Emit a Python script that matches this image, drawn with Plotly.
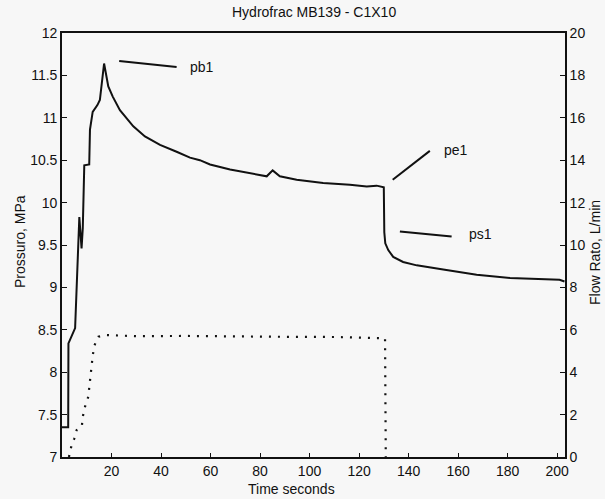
import plotly.graph_objects as go

# ---------------- data ----------------
title_text = "Hydrofrac MB139 - C1X10"
x_title = "Time seconds"
y_title = "Prossuro, MPa"
y2_title = "Flow Rato, L/min"

press_time = [0, 2.5, 2.6, 3.9, 5.3, 7.0, 7.9, 8.4, 8.7, 9.0, 11.0, 11.3, 12.4,
              14.3, 15.3, 17.0, 18.7, 20.5, 23.4, 28.8, 33.5, 39.6, 46.3, 51.7,
              55.7, 59.8, 67.9, 75.9, 82.7, 85.1, 88.0, 94.8, 105.5, 116.3,
              123.1, 127.1, 130.0, 130.2, 130.6, 131.8, 133.8, 137.8, 143.3,
              154.0, 167.5, 181.0, 201.0, 203.0]
press_mpa = [7.35, 7.35, 8.34, 8.42, 8.52, 9.83, 9.46, 9.70, 10.00, 10.44, 10.45,
             10.86, 11.07, 11.15, 11.21, 11.64, 11.37, 11.25, 11.09, 10.90, 10.78,
             10.68, 10.60, 10.53, 10.50, 10.45, 10.39, 10.35, 10.31, 10.38, 10.31,
             10.27, 10.23, 10.21, 10.19, 10.20, 10.18, 9.65, 9.52, 9.44, 9.36,
             9.30, 9.26, 9.21, 9.15, 9.11, 9.09, 9.07]

flow_time = [2.8, 3.9, 5.0, 5.9, 7.0, 8.0, 8.4, 9.3, 10.6, 11.0, 11.6, 12.0, 12.4,
             13.0, 14.7, 17.8, 30, 50, 70, 90, 110, 125, 130.5, 130.8]
flow_lpm = [0, 0.57, 0.88, 1.27, 1.36, 1.43, 1.90, 2.37, 2.84, 3.30, 3.80, 4.26,
            4.76, 5.24, 5.67, 5.75, 5.70, 5.71, 5.68, 5.67, 5.66, 5.64, 5.60, 0]

x_ticks = [20, 40, 60, 80, 100, 120, 140, 160, 180, 200]
y_ticks = [7, 7.5, 8, 8.5, 9, 9.5, 10, 10.5, 11, 11.5, 12]
y2_ticks = [0, 2, 4, 6, 8, 10, 12, 14, 16, 18, 20]

ann_labels = ["pb1", "pe1", "ps1"]
ann_line_t0 = [23.1, 133.6, 136.5]
ann_line_p0 = [11.67, 10.27, 9.66]
ann_line_t1 = [46.3, 148.6, 157.4]
ann_line_p1 = [11.60, 10.61, 9.60]
ann_text_t = [51.0, 153.5, 163.5]
ann_text_p = [11.60, 10.62, 9.63]

# ---------------- figure ----------------
FONT = "Liberation Sans, Arial, sans-serif"
INK = "#111111"
BG = "#f7f7f7"
FS = 14

fig = go.Figure()
fig.add_trace(go.Scatter(x=press_time, y=press_mpa, mode="lines",
                         line=dict(color=INK, width=2), yaxis="y",
                         showlegend=False, hoverinfo="skip"))
fig.add_trace(go.Scatter(x=flow_time, y=flow_lpm, mode="lines",
                         line=dict(color=INK, width=2.2, dash="2px,7px"),
                         yaxis="y2", showlegend=False, hoverinfo="skip"))

for lab, t0, p0, t1, p1, tt, tp in zip(ann_labels, ann_line_t0, ann_line_p0,
                                       ann_line_t1, ann_line_p1, ann_text_t, ann_text_p):
    fig.add_shape(type="line", xref="x", yref="y", x0=t0, y0=p0, x1=t1, y1=p1,
                  line=dict(color=INK, width=2))
    fig.add_annotation(x=tt, y=tp, xref="x", yref="y", text=lab, showarrow=False,
                       xanchor="left", yanchor="middle",
                       font=dict(family=FONT, size=FS, color=INK))

axis_common = dict(showline=True, linecolor=INK, linewidth=1.6, ticks="inside",
                   tickcolor=INK, showgrid=False, zeroline=False,
                   tickfont=dict(family=FONT, size=FS, color=INK))

fig.update_layout(
    width=605, height=499,
    margin=dict(l=62, r=40, t=33, b=42, pad=0),
    paper_bgcolor=BG, plot_bgcolor=BG,
    xaxis=dict(range=[0, 203.2], tickvals=x_ticks, ticklen=4, mirror=True,
               **axis_common),
    yaxis=dict(range=[7, 12], tickvals=y_ticks, ticklen=5, mirror=True,
               **axis_common),
    yaxis2=dict(range=[0, 20], tickvals=y2_ticks, ticklen=5, overlaying="y",
                side="right", **axis_common),
    annotations=list(fig.layout.annotations) + [
        dict(text=title_text, xref="paper", yref="paper", x=0.5, y=1,
             yshift=21, showarrow=False, xanchor="center", yanchor="middle",
             font=dict(family=FONT, size=FS, color=INK)),
        dict(text=x_title, xref="paper", yref="paper", x=0.457, y=0,
             yshift=-32, showarrow=False, xanchor="center", yanchor="middle",
             font=dict(family=FONT, size=FS, color=INK)),
        dict(text=y_title, xref="paper", yref="paper", x=0, y=0.5,
             xshift=-42, yshift=3, showarrow=False, textangle=-90,
             xanchor="center", yanchor="middle",
             font=dict(family=FONT, size=FS, color=INK)),
        dict(text=y2_title, xref="paper", yref="paper", x=1, y=0.5,
             xshift=30, yshift=-8, showarrow=False, textangle=-90,
             xanchor="center", yanchor="middle",
             font=dict(family=FONT, size=FS, color=INK)),
    ],
)

fig.write_html("out.html",
               config={"displayModeBar": False},
               post_script="document.body.style.margin='0';"
                           "document.body.style.overflow='hidden';")
